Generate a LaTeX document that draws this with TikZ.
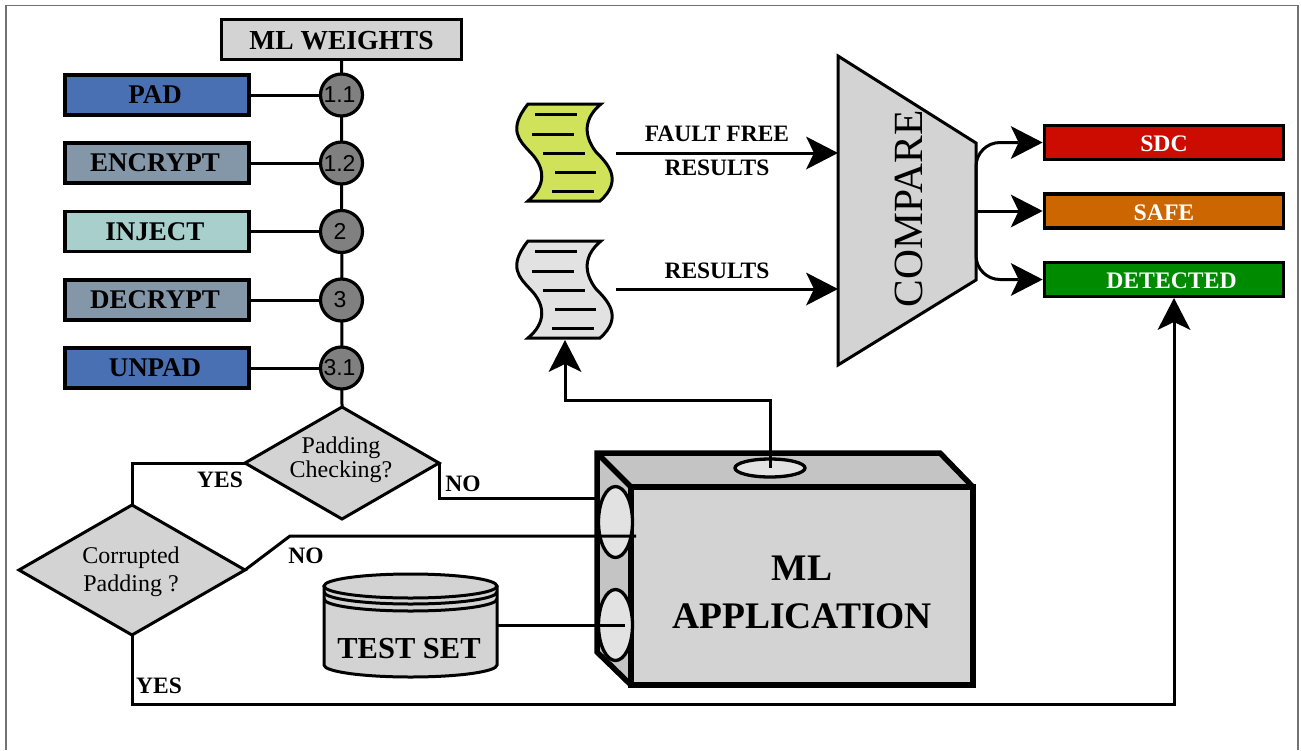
\documentclass[tikz,border=0pt]{standalone}
\usepackage{fontspec}
\setmainfont{Liberation Serif}
\newfontfamily\numfont{Liberation Sans}
\usetikzlibrary{arrows.meta,shapes.geometric}
\newcommand{\fsz}[1]{\fontsize{#1}{#1}\selectfont}
\definecolor{padblue}{HTML}{4A70B4}
\definecolor{encgrey}{HTML}{8497A9}
\definecolor{injteal}{HTML}{A8CFCC}
\definecolor{lightbox}{HTML}{D3D3D3}
\definecolor{sidebox}{HTML}{C4C4C4}
\definecolor{holefill}{HTML}{E2E2E2}
\definecolor{docgreen}{HTML}{D0E25A}
\definecolor{sdcred}{HTML}{CC0C00}
\definecolor{safeorange}{HTML}{CC6600}
\definecolor{detgreen}{HTML}{008A00}
\tikzset{
  wire/.style={line width=3pt,draw=black},
  bigarrow/.style={wire,-{Stealth[length=32pt,width=33pt,inset=8pt,line width=0pt]}},
  stepbox/.style={draw=black,line width=3.2pt,minimum width=184pt,minimum height=40pt,inner sep=0pt,text height=17.5pt,text depth=0pt,font=\bfseries\fsz{27}},
  outbox/.style={draw=black,line width=3.2pt,minimum width=239.5pt,minimum height=34pt,inner sep=0pt,text height=18pt,text depth=0pt,font=\bfseries\fsz{23.7},text=white},
  stepdot/.style={circle,draw=black,fill=black!50,line width=3.2pt,minimum size=42pt,inner sep=0pt,font=\numfont\fsz{23}},
  decision/.style={diamond,draw=black,fill=lightbox,line width=3pt,inner sep=0pt,outer sep=0pt},
  tag/.style={inner sep=0pt,font=\bfseries\fsz{23.5}},
  decisiontext/.style={inner sep=0pt,align=center,font=\fsz{24}},
  hole/.style={draw=black,fill=holefill,line width=3.3pt},
}
\newcommand{\scrolldoc}[2]{%
  \begin{scope}[shift={(0,#1)}]
    \draw[line width=3pt,fill=#2,line join=miter] (528,104) -- (601,104)
      .. controls (584,118) and (583,135) .. (596,152)
      .. controls (607,163) and (624,180) .. (600,201) -- (528,201)
      .. controls (546,186) and (546,168) .. (530,152)
      .. controls (520,141) and (507,130) .. (528,104) -- cycle;
    \draw[wire] (535,114) -- (577,114);
    \draw[wire] (532,134) -- (574,134);
    \draw[wire] (543,153) -- (585,153);
    \draw[wire] (555,172) -- (596,172);
    \draw[wire] (552,191) -- (594,191);
  \end{scope}}
\begin{document}
\begin{tikzpicture}[x=1pt,y=-1pt]
\useasboundingbox (0,0) rectangle (1301,750);
% frame
\draw[draw=black!55,line width=1.5pt] (6,750) -- (6,5.5) -- (1298,5.5) -- (1298,750);

% chain on the left
\node[stepbox,fill=lightbox,minimum width=240.5pt,text height=19pt,font=\bfseries\fsz{27.5}] (weights) at (341.5,39.5) {ML WEIGHTS};
\node[stepbox,fill=padblue] (pad) at (157,95) {\kern-4pt PAD};
\node[stepbox,fill=encgrey] (enc) at (157,163) {\kern-4pt ENCRYPT};
\node[stepbox,fill=injteal] (inj) at (157,231.5) {\kern-4pt INJECT};
\node[stepbox,fill=encgrey] (dec) at (157,300) {\kern-4pt DECRYPT};
\node[stepbox,fill=padblue] (unpad) at (157,368) {\kern-4pt UNPAD};
\node[decision,minimum width=194pt,minimum height=112pt,aspect=1.73] (check) at (342,463) {};
\node[decision,minimum width=226pt,minimum height=130pt,aspect=1.73] (corrupt) at (132,570) {};
\draw[wire] (weights.south) -- (check.north);
\node[stepdot] (d11) at (341.5,95) {\kern-4pt 1.1};
\node[stepdot] (d12) at (341.5,163) {\kern-4pt 1.2};
\node[stepdot] (d2) at (341.5,231.5) {\kern-3pt 2};
\node[stepdot] (d3) at (341.5,300) {\kern-3pt 3};
\node[stepdot] (d31) at (341.5,368) {\kern-4pt 3.1};
\foreach \a/\b in {pad/d11,enc/d12,inj/d2,dec/d3,unpad/d31}
  \draw[wire] (\a.east) -- (\b.west);
\node[decisiontext] (checkt) at (341,460) {Padding\\[0pt]Checking?};
\node[decisiontext] (corruptt) at (131,572) {Corrupted\\[4pt]Padding ?};

% scrolls
\scrolldoc{0}{docgreen}
\scrolldoc{137}{holefill}
\coordinate (ffout) at (616,153);
\coordinate (resout) at (616,289);
\coordinate (resin) at (565,340);

% compare
\coordinate (c1) at (838,56);
\coordinate (c2) at (976,143);
\coordinate (c3) at (976,280);
\coordinate (c4) at (838,365);
\draw[line width=3pt,fill=lightbox,line join=miter] (c1) -- (c2) -- (c3) -- (c4) -- cycle;
\node[rotate=90,inner sep=0pt,font=\fsz{41.5}] (cmp) at (908.5,209) {COMPARE};
\coordinate (ffin) at (838,153);
\coordinate (resinc) at (838,289);
\coordinate (cmpout) at (976,211);
\draw[bigarrow] (ffout) -- (ffin);
\draw[bigarrow] (resout) -- (resinc);
\node[tag] (tff) at (717,134) {FAULT FREE};
\node[tag] (tfr) at (717,168) {RESULTS};
\node[tag] (tr) at (717,271) {RESULTS};

% outputs
\node[outbox,fill=sdcred] (sdc) at (1164,142.5) {SDC};
\node[outbox,fill=safeorange] (safe) at (1164,211) {SAFE};
\node[outbox,fill=detgreen] (det) at (1164,279.5) {\kern15pt DETECTED};
\draw[bigarrow,rounded corners=24pt] (cmpout) |- (sdc.west);
\draw[bigarrow,rounded corners=24pt] (cmpout) |- (det.west);
\draw[bigarrow] (cmpout) -- (safe.west);

% application box
\coordinate (a1) at (597,453);
\coordinate (a2) at (940,453);
\coordinate (a3) at (973,487);
\coordinate (a4) at (973,685);
\coordinate (a5) at (631,685);
\coordinate (a6) at (631,487);
\coordinate (a7) at (597,652);
\draw[line width=5.5pt,fill=sidebox,line join=miter] (a1) -- (a2) -- (a3) -- (a4) -- (a5) -- (a7) -- cycle;
\draw[line width=5.5pt] (a1) -- (a6);
\node[draw=black,line width=5.5pt,fill=lightbox,minimum width=342pt,minimum height=198pt,inner sep=0pt,
      align=center,font=\bfseries\fsz{37.5}] (app) at (802,586) {\rule{0pt}{38pt}ML\\[10.5pt]APPLICATION};
\node[ellipse,hole,minimum width=70pt,minimum height=18pt,inner sep=0pt] (htop) at (770,468) {};
\node[ellipse,hole,minimum width=34pt,minimum height=71pt,inner sep=0pt] (h1) at (615.5,522) {};
\node[ellipse,hole,minimum width=34pt,minimum height=71pt,inner sep=0pt] (h2) at (615.5,625) {};

% test set
\draw[line width=3pt,fill=lightbox] (324,586) -- (324,665) arc[start angle=180,end angle=360,x radius=86.5pt,y radius=12pt] -- (497,586);
\draw[line width=3pt,fill=lightbox] (410.5,586) ellipse[x radius=86.5pt,y radius=12pt];
\draw[line width=3pt] (324,592) arc[start angle=180,end angle=360,x radius=86.5pt,y radius=12pt];
\draw[line width=3pt] (324,599) arc[start angle=180,end angle=360,x radius=86.5pt,y radius=12pt];
\node[inner sep=0pt,font=\bfseries\fsz{30.5}] (test) at (409,649) {TEST SET};
\coordinate (testout) at (497,625);

% connectors
\coordinate (appin1) at (599,498);
\coordinate (appin2) at (636,536);
\coordinate (appin3) at (625,625);
\draw[wire,line join=miter] (check.west) -| (corrupt.north);
\draw[wire,line join=miter] (check.east) -- ++(0,35) |- (appin1);
\draw[wire,line join=miter] (corrupt.east) -- (290,536) -- (appin2);
\draw[wire] (testout) -- (appin3);
\draw[bigarrow,line join=miter] (htop.center) |- (565,400) -- (resin);
\draw[bigarrow,line join=miter] (corrupt.south) |- (1174,704) -- (1174,298);
\node[tag] (y1) at (220,480) {YES};
\node[tag] (n1) at (463,484) {NO};
\node[tag] (n2) at (306,556) {NO};
\node[tag] (y2) at (159,686) {YES};
\end{tikzpicture}
\end{document}
